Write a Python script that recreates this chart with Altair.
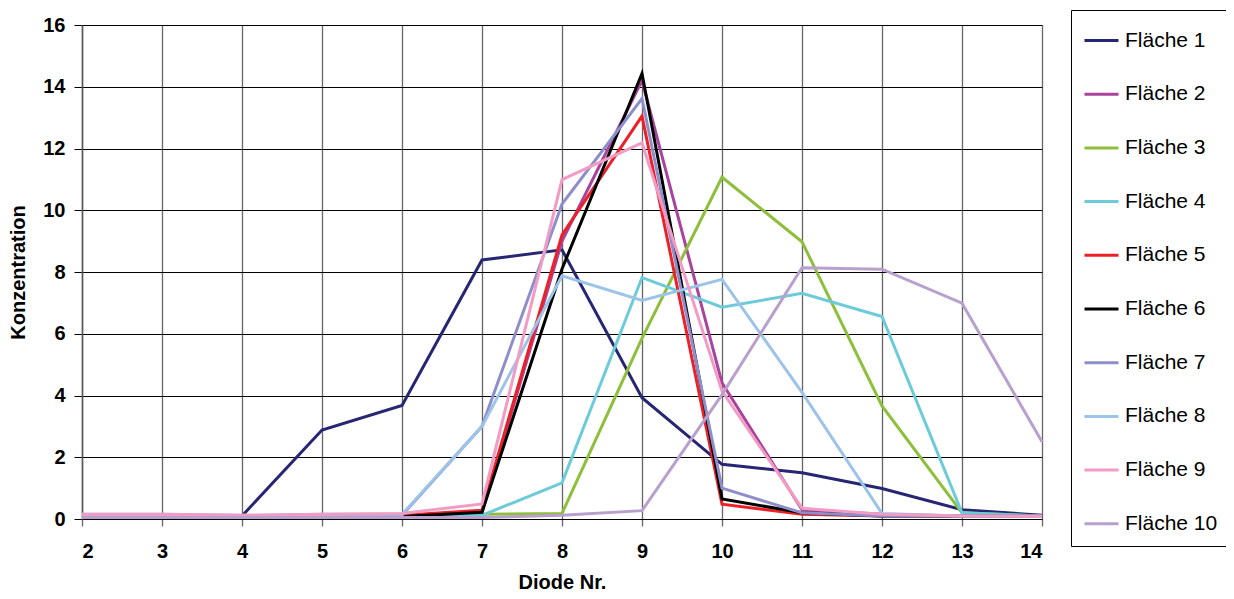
import altair as alt
import pandas as pd

diode = list(range(2, 15))
series_names = ["Fläche 1", "Fläche 2", "Fläche 3", "Fläche 4", "Fläche 5",
                "Fläche 6", "Fläche 7", "Fläche 8", "Fläche 9", "Fläche 10"]
colors = ["#262673", "#a8449c", "#8dbf3a", "#6ccbd8", "#ee2027",
          "#000000", "#8e8fca", "#9cc3e8", "#f29bc5", "#b9a0cc"]

f1 = [0.12, 0.12, 0.10, 2.88, 3.68, 8.39, 8.72, 3.93, 1.77, 1.50, 0.99, 0.30, 0.12]
f2 = [0.10, 0.10, 0.10, 0.10, 0.12, 0.20, 9.00, 14.20, 4.41, 0.30, 0.15, 0.10, 0.10]
f3 = [0.10, 0.10, 0.10, 0.10, 0.10, 0.15, 0.18, 5.85, 11.07, 8.98, 3.66, 0.20, 0.10]
f4 = [0.10, 0.10, 0.10, 0.10, 0.10, 0.12, 1.17, 7.82, 6.86, 7.31, 6.56, 0.20, 0.10]
f5 = [0.10, 0.10, 0.10, 0.10, 0.12, 0.28, 9.20, 13.05, 0.48, 0.15, 0.10, 0.10, 0.10]
f6 = [0.05, 0.05, 0.05, 0.05, 0.08, 0.22, 8.10, 14.43, 0.65, 0.20, 0.10, 0.10, 0.10]
f7 = [0.12, 0.12, 0.10, 0.12, 0.12, 3.00, 10.20, 13.62, 1.00, 0.20, 0.10, 0.10, 0.10]
f8 = [0.15, 0.15, 0.12, 0.15, 0.15, 3.00, 7.88, 7.08, 7.76, 4.10, 0.18, 0.10, 0.10]
f9 = [0.15, 0.15, 0.12, 0.15, 0.18, 0.49, 10.99, 12.18, 4.14, 0.35, 0.15, 0.10, 0.08]
f10 = [0.05, 0.05, 0.05, 0.05, 0.05, 0.05, 0.12, 0.27, 4.03, 8.14, 8.09, 6.99, 2.50]

all_series = [f1, f2, f3, f4, f5, f6, f7, f8, f9, f10]

rows = []
for idx, (name, vals) in enumerate(zip(series_names, all_series)):
    for d, v in zip(diode, vals):
        rows.append({"Diode": d, "Konzentration": v, "Serie": name, "idx": idx})
df = pd.DataFrame(rows)

FONT = "Liberation Sans"

chart = alt.Chart(df).mark_line(strokeWidth=3).encode(
    x=alt.X("Diode:Q",
            scale=alt.Scale(domain=[2, 14], nice=False, zero=False),
            axis=alt.Axis(values=diode, title="Diode Nr.", format="d",
                          grid=True, gridColor="#666666", gridWidth=1.3,
                          domainColor="#000000", domainWidth=1.2,
                          tickColor="#666666", tickSize=7, tickWidth=1.3,
                          labelFont=FONT, labelFontSize=20, labelFontWeight="bold",
                          labelColor="#000000", labelPadding=15,
                          titleFont=FONT, titleFontSize=20, titleFontWeight="bold",
                          titleColor="#000000", titleX=480, titleY=69,
                          titleBaseline="alphabetic", titleAlign="center")),
    y=alt.Y("Konzentration:Q",
            scale=alt.Scale(domain=[0, 16], nice=False),
            axis=alt.Axis(values=[0, 2, 4, 6, 8, 10, 12, 14, 16], title="Konzentration",
                          grid=True, gridColor="#000000", gridWidth=1,
                          domainColor="#555555", domainWidth=1.5,
                          tickColor="#000000", tickSize=8, tickWidth=1,
                          labelFont=FONT, labelFontSize=20, labelFontWeight="bold",
                          labelColor="#000000", labelPadding=9,
                          titleFont=FONT, titleFontSize=20, titleFontWeight="bold",
                          titleColor="#000000", titleX=-64, titleY=247,
                          titleAngle=270, titleBaseline="middle", titleAlign="center")),
    color=alt.Color("Serie:N",
                    scale=alt.Scale(domain=series_names, range=colors),
                    legend=alt.Legend(title=None, orient="none", legendX=989, legendY=-15,
                                      symbolType="stroke", symbolSize=1156,
                                      symbolStrokeWidth=3, labelFont=FONT,
                                      labelFontSize=21, labelColor="#000000",
                                      labelOffset=5, rowPadding=24.7, padding=12,
                                      strokeColor="#000000", fillColor="#ffffff",
                                      labelLimit=300)),
    order=alt.Order("Diode:Q"),
).properties(
    width=960, height=494,
    autosize=alt.AutoSizeParams(type="none"),
    padding={"left": 74, "top": 17, "right": 184, "bottom": 72},
).configure_view(
    stroke="#9a9a9a", strokeWidth=1.5
).configure(background="#ffffff")

chart.save("out.html", embed_options={"renderer": "svg", "actions": False})
